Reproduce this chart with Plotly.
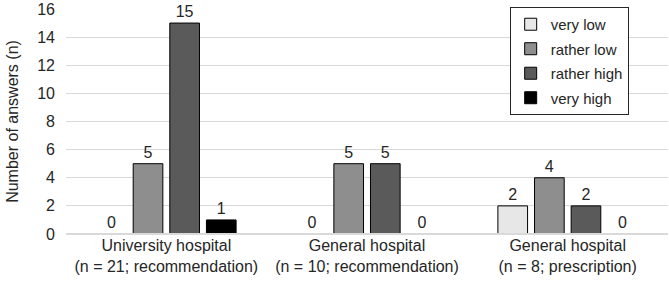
import plotly.graph_objects as go

categories = ["University hospital<br>(n = 21; recommendation)",
              "General hospital<br>(n = 10; recommendation)",
              "General hospital<br>(n = 8; prescription)"]
series_names = ["very low", "rather low", "rather high", "very high"]
very_low = [0, 0, 2]
rather_low = [5, 5, 4]
rather_high = [15, 5, 2]
very_high = [1, 0, 0]
y_ticks = [0, 2, 4, 6, 8, 10, 12, 14, 16]

values = [very_low, rather_low, rather_high, very_high]
colors = ["#e7e7e7", "#8e8e8e", "#5a5a5a", "#000000"]

FONT = "Liberation Sans, Arial, sans-serif"
GRID = "#d9d9d9"

fig = go.Figure()
for name, vals, col in zip(series_names, values, colors):
    fig.add_trace(go.Bar(
        x=categories, y=vals, name=name, legendgroup=name,
        marker=dict(color=col, line=dict(color="#000000", width=1)),
        text=[str(v) for v in vals], textposition="outside",
        textfont=dict(size=16, color="#262626", family=FONT),
        cliponaxis=False,
    ))

# baseline drawn over the bars so zero-height bars show no outline
fig.add_shape(type="line", xref="paper", yref="y", x0=0, x1=1, y0=0, y1=0,
              line=dict(color=GRID, width=2.2), layer="above")

fig.update_layout(
    width=669, height=283,
    margin=dict(l=66, r=1, t=9, b=49),
    plot_bgcolor="white", paper_bgcolor="white",
    barmode="group", bargap=0.27, bargroupgap=0.19,
    font=dict(family=FONT, size=16, color="#262626"),
    showlegend=True,
    legend=dict(
        x=0.737, y=1.009, xanchor="left", yanchor="top",
        bgcolor="white", bordercolor="#262626", borderwidth=1,
        font=dict(size=15, color="#262626", family=FONT),
        tracegroupgap=2, itemwidth=30,
    ),
    xaxis=dict(showline=False, ticks="", tickfont=dict(size=16)),
    yaxis=dict(
        range=[0, 16], tickvals=y_ticks, showgrid=True, gridcolor=GRID,
        gridwidth=1, zeroline=True, zerolinecolor=GRID, zerolinewidth=1,
        tickfont=dict(size=16), ticks="", ticklabelstandoff=10,
        title=dict(text="Number of answers (n)", font=dict(size=16), standoff=14),
    ),
)

fig.write_html("out.html")
